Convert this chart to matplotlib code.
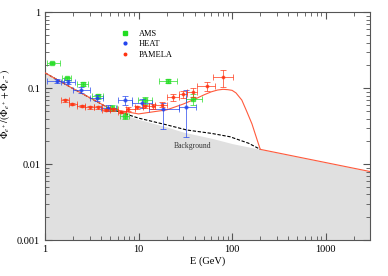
import numpy as np
import matplotlib
matplotlib.use("Agg")
import matplotlib.pyplot as plt
from matplotlib.lines import Line2D
from matplotlib.ticker import LogLocator, NullFormatter, FixedLocator, FixedFormatter

# ---- data ----
ams_E = [1.18, 1.71, 2.53, 3.66, 5.17, 7.17, 11.7, 20.8, 38.0]
ams_lo = [1.04, 1.52, 2.2, 3.2, 4.5, 6.3, 9.8, 16.5, 32.0]
ams_hi = [1.45, 1.9, 2.9, 4.2, 5.9, 8.0, 14.0, 26.0, 48.0]
ams_v = [0.214, 0.135, 0.114, 0.079, 0.0555, 0.0435, 0.070, 0.126, 0.0716]
ams_err = [0.006, 0.008, 0.007, 0.006, 0.005, 0.004, 0.008, 0.007, 0.012]

heat_E = [1.33, 1.78, 2.43, 3.57, 4.76, 7.17, 11.0, 18.1, 32.2]
heat_lo = [1.05, 1.5, 2.0, 3.0, 4.0, 6.0, 8.5, 13.0, 27.0]
heat_hi = [1.6, 2.1, 3.0, 4.2, 5.8, 8.5, 14.0, 27.0, 41.0]
heat_v = [0.126, 0.122, 0.095, 0.075, 0.0555, 0.070, 0.0634, 0.0528, 0.057]
heat_elo = [0.008, 0.008, 0.008, 0.006, 0.005, 0.010, 0.009, 0.024, 0.034]
heat_ehi = [0.008, 0.008, 0.008, 0.006, 0.005, 0.010, 0.009, 0.012, 0.038]

pam_E = [1.64, 1.95, 2.47, 3.03, 3.7, 4.49, 5.38, 6.45, 7.8, 9.6, 11.7, 14.4, 17.7, 23.5, 30.0, 38.0, 53.6, 80.7]
pam_lo = [1.5, 1.8, 2.2, 2.7, 3.3, 4.1, 5.0, 6.1, 7.4, 9.1, 11.2, 13.0, 15.0, 20.0, 27.0, 33.0, 41.8, 63.0]
pam_hi = [1.8, 2.2, 2.7, 3.3, 4.1, 5.0, 6.1, 7.4, 9.1, 11.2, 13.0, 15.0, 20.0, 27.0, 33.0, 41.8, 65.8, 101.0]
pam_v = [0.070, 0.062, 0.058, 0.056, 0.056, 0.052, 0.053, 0.049, 0.053, 0.056, 0.058, 0.058, 0.061, 0.076, 0.083, 0.089, 0.107, 0.140]
pam_err = [0.003, 0.002, 0.002, 0.002, 0.002, 0.002, 0.002, 0.002, 0.003, 0.003, 0.003, 0.004, 0.005, 0.007, 0.009, 0.011, 0.015, 0.036]

bg_E = [1, 2, 5, 10, 20, 33, 60, 95, 150, 200, 3000]
bg_v = [0.16, 0.099, 0.0533, 0.0405, 0.033, 0.0282, 0.0255, 0.023, 0.0189, 0.0157, 0.0080]

shade_E = [1, 2, 5, 10, 20, 30, 60, 100, 200, 3000]
shade_v = [0.16, 0.099, 0.0516, 0.039, 0.031, 0.0265, 0.022, 0.0187, 0.0157, 0.0080]

sig_E = [1, 2, 5, 10, 20, 30, 40, 50, 60, 70, 80, 90, 100, 110, 127, 143, 163, 185, 200, 3000]
sig_v = [0.16, 0.099, 0.0535, 0.046, 0.052, 0.062, 0.072, 0.082, 0.090, 0.095, 0.097, 0.096, 0.094, 0.087, 0.070, 0.050, 0.034, 0.021, 0.0157, 0.0080]

labels = ['AMS', 'HEAT', 'PAMELA']
colors = ['#22dd22', '#2244ee', '#ff3311']

plt.rcParams['font.family'] = ['Liberation Serif', 'DejaVu Serif']
plt.rcParams['mathtext.fontset'] = 'stix'

fig = plt.figure(figsize=(3.88, 2.76), dpi=100)
ax = fig.add_axes([0.116, 0.130, 0.838, 0.825])
ax.set_xscale('log')
ax.set_yscale('log')
ax.set_xlim(1, 2990)
ax.set_ylim(0.001, 1)

ax.fill_between(shade_E, 0.0001, shade_v, color='#e0e0e0', lw=0, zorder=1)
ax.plot(bg_E[:-1], bg_v[:-1], color='black', ls=(0, (3, 1.5)), lw=0.8, zorder=2)
ax.plot(sig_E, sig_v, color='#ff5a3c', lw=0.8, zorder=3)

def errs(E, lo, hi):
    E = np.array(E); return [E - np.array(lo), np.array(hi) - E]

kw = dict(lw=0.7, capsize=2.2, capthick=0.7, alpha=0.7)
ax.errorbar(ams_E, ams_v, yerr=ams_err, xerr=errs(ams_E, ams_lo, ams_hi), fmt='s',
            color=colors[0], ms=2.3, zorder=4, **kw)
ax.errorbar(heat_E, heat_v, yerr=[heat_elo, heat_ehi], xerr=errs(heat_E, heat_lo, heat_hi), fmt='o',
            color=colors[1], ms=2.0, zorder=5, **kw)
ax.errorbar(pam_E, pam_v, yerr=pam_err, xerr=errs(pam_E, pam_lo, pam_hi), fmt='o',
            color=colors[2], ms=1.8, zorder=6, **kw)

ax.text(38, 0.0175, 'Background', fontsize=5.5, ha='center', va='center', color='#333333')

handles = [Line2D([], [], ls='none', marker='s', ms=2.3, color=colors[0]),
           Line2D([], [], ls='none', marker='o', ms=2.0, color=colors[1]),
           Line2D([], [], ls='none', marker='o', ms=1.8, color=colors[2])]
ax.legend(handles, labels, loc='upper left', bbox_to_anchor=(0.215, 0.95), frameon=False, fontsize=6,
          handlelength=1.0, handletextpad=1.2, labelspacing=0.3, borderpad=0.2)

ax.xaxis.set_major_locator(FixedLocator([1, 10, 100, 1000]))
ax.xaxis.set_major_formatter(FixedFormatter(['1', '10', '100', '1000']))
ax.yaxis.set_major_locator(FixedLocator([0.001, 0.01, 0.1, 1]))
ax.yaxis.set_major_formatter(FixedFormatter(['0.001', '0.01', '0.1', '1']))
ax.xaxis.set_minor_locator(LogLocator(base=10, subs=np.arange(2, 10)))
ax.yaxis.set_minor_locator(LogLocator(base=10, subs=np.arange(2, 10)))
ax.xaxis.set_minor_formatter(NullFormatter())
ax.yaxis.set_minor_formatter(NullFormatter())
ax.tick_params(which='both', direction='in', top=True, right=True, labelsize=7.5, color='#555555')
ax.tick_params(which='major', length=5, width=0.8)
ax.tick_params(which='minor', length=3, width=0.6)
for s in ax.spines.values():
    s.set_color('#555555'); s.set_linewidth(0.8)

ax.set_xlabel('E (GeV)', fontsize=7.5, labelpad=2)
ax.set_ylabel(r'$\Phi_{e^+}/(\Phi_{e^+}+\Phi_{e^-})$', fontsize=7)
ax.yaxis.set_label_coords(-0.1, 0.6)

fig.savefig('out.png', dpi=100)
